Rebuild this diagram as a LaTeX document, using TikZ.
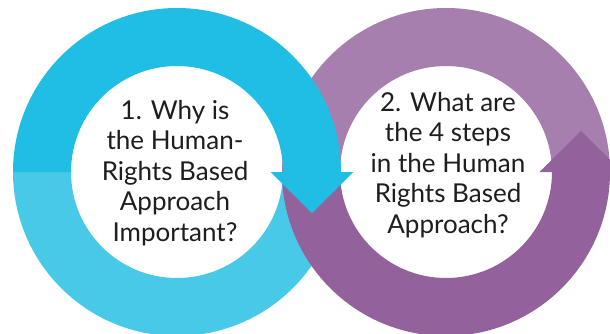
\documentclass[tikz,border=0pt]{standalone}
\usepackage{fontspec}
\setmainfont{Lato}
\definecolor{cyanA}{HTML}{20BEE5}
\definecolor{cyanB}{HTML}{49C9E8}
\definecolor{purpA}{HTML}{A67FAE}
\definecolor{purpB}{HTML}{93619C}
\definecolor{ink}{HTML}{1E1E1E}
\tikzset{
  qtext/.style={align=center, text=ink, font=\fontsize{26}{30.5}\selectfont, inner sep=0pt}
}
\begin{document}
\begin{tikzpicture}[x=1pt,y=1pt]
\useasboundingbox (0,0) rectangle (610,333);
\fill[white] (0,0) rectangle (610,333);
\clip (0,0) rectangle (610,333);
% left ring: lower light half
\fill[cyanB] (13,161) arc[start angle=180,end angle=360,radius=164pt]
  -- (283,161) arc[start angle=0,end angle=-180,radius=106pt] -- cycle;
% right ring: upper light half
\fill[purpA] (282,161) arc[start angle=180,end angle=0,radius=164pt]
  -- (552,161) arc[start angle=0,end angle=180,radius=106pt] -- cycle;
% right ring: lower dark half with arrow
\fill[purpB] (282,161) arc[start angle=180,end angle=360,radius=164pt]
  -- (622.5,161) -- (581,202) -- (539.5,161) -- (552,161)
  arc[start angle=0,end angle=-180,radius=106pt] -- cycle;
% left ring: upper dark half with arrow
\fill[cyanA] (13,161) arc[start angle=180,end angle=0,radius=164pt]
  -- (353.5,161) -- (312,120) -- (270.5,161) -- (283,161)
  arc[start angle=0,end angle=180,radius=106pt] -- cycle;
\node[qtext] (q1) at (175,160) {1. Why is\\the Human-\\Rights Based\\Approach\\Important?};
\node[qtext] (q2) at (448,168) {2. What are\\the 4 steps\\in the Human\\Rights Based\\Approach?};
\end{tikzpicture}
\end{document}
